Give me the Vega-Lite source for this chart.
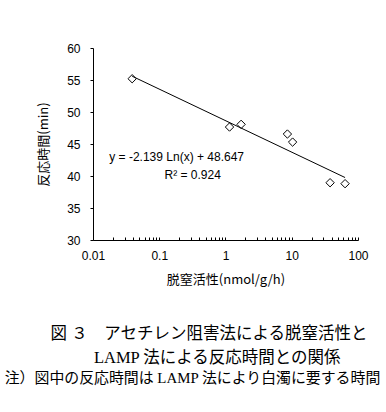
{
  "$schema": "https://vega.github.io/schema/vega-lite/v6.json",
  "width": 265,
  "height": 192,
  "autosize": "none",
  "padding": {"left": 93, "top": 48, "right": 28, "bottom": 172},
  "background": "white",
  "config": {
    "view": {"stroke": null},
    "axis": {"grid": false, "domainColor": "black", "tickColor": "black", "labelColor": "black", "titleColor": "black", "labelFont": "Liberation Sans", "labelFontSize": 12, "titleFont": "Noto Sans CJK JP", "titleFontSize": 13, "titleFontWeight": "normal", "labelOverlap": false}
  },
  "title": {
    "text": ["\u200b　　図 ３　アセチレン阻害法による脱窒活性と", "\u200b　　　LAMP 法による反応時間との関係"],
    "subtitle": "注）図中の反応時間は LAMP 法により白濁に要する時間",
    "orient": "bottom",
    "anchor": "middle",
    "frame": "group",
    "offset": 40,
    "dx": -33,
    "font": "Liberation Serif, Noto Sans CJK JP",
    "fontSize": 16.5,
    "fontWeight": "normal",
    "lineHeight": 24,
    "color": "black",
    "subtitleFont": "Liberation Serif, Noto Sans CJK JP",
    "subtitleFontSize": 14.9,
    "subtitleColor": "black",
    "subtitlePadding": 4
  },
  "datasets": {
    "pts": [
      {"x": 0.039, "y": 55.2},
      {"x": 1.15, "y": 47.65},
      {"x": 1.72, "y": 48.07},
      {"x": 8.6, "y": 46.56},
      {"x": 10.3, "y": 45.3},
      {"x": 37.9, "y": 38.95},
      {"x": 63.8, "y": 38.8}
    ],
    "trend": [
      {"x": 0.039, "y": 55.59},
      {"x": 63.8, "y": 39.76}
    ],
    "notes": [
      {"x": 0.183, "y": 42.97, "label": "y = -2.139 Ln(x) + 48.647"},
      {"x": 0.32, "y": 40.16, "label": "R² = 0.924"}
    ]
  },
  "encoding": {
    "x": {"field": "x", "type": "quantitative", "scale": {"type": "log", "domain": [0.01, 100], "nice": false},
      "axis": {
        "title": "脱窒活性(nmol/g/h)",
        "values": [0.01,0.02,0.03,0.04,0.05,0.06,0.07,0.08,0.09,0.1,0.2,0.3,0.4,0.5,0.6,0.7,0.8,0.9,1,2,3,4,5,6,7,8,9,10,20,30,40,50,60,70,80,90,100],
        "labelExpr": "indexof([0.01,0.1,1,10,100], datum.value) >= 0 ? toString(datum.value) : ''",
        "labelFlush": false,
        "labelOverlap": false,
        "tickSize": -3,
        "labelPadding": 13,
        "titlePadding": 12
      }},
    "y": {"field": "y", "type": "quantitative", "scale": {"domain": [30, 60], "nice": false, "zero": false},
      "axis": {"title": "反応時間(min)", "values": [30,35,40,45,50,55,60], "tickCount": 7, "labelExpr": "toString(datum.value)", "labelOverlap": false, "labelFlush": false, "tickSize": 3, "labelPadding": 10, "titlePadding": 16}}
  },
  "layer": [
    {
      "data": {"name": "trend"},
      "mark": {"type": "line", "color": "black", "strokeWidth": 1}
    },
    {
      "data": {"name": "pts"},
      "mark": {"type": "point", "shape": "diamond", "filled": false, "stroke": "black", "strokeWidth": 1, "size": 70, "opacity": 1}
    },
    {
      "data": {"name": "notes"},
      "mark": {"type": "text", "font": "Liberation Sans", "fontSize": 12, "color": "black", "align": "center", "baseline": "middle"},
      "encoding": {
        "text": {"field": "label"}
      }
    }
  ]
}
